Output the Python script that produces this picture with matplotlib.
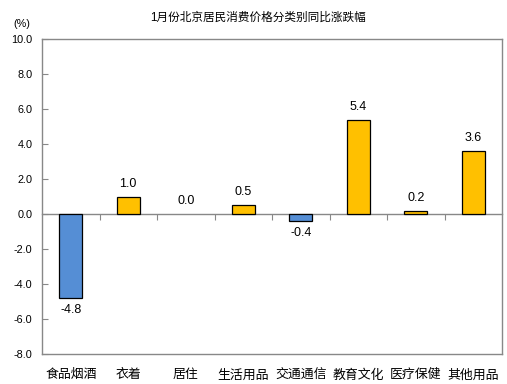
import matplotlib
matplotlib.use("Agg")
import matplotlib.pyplot as plt
import numpy as np

plt.rcParams['font.family'] = ['Liberation Sans', 'Noto Sans CJK SC', 'DejaVu Sans']

categories = ["食品烟酒", "衣着", "居住", "生活用品", "交通通信", "教育文化", "医疗保健", "其他用品"]
values = [-4.8, 1.0, 0.0, 0.5, -0.4, 5.4, 0.2, 3.6]
yticks = [-8.0, -6.0, -4.0, -2.0, 0.0, 2.0, 4.0, 6.0, 8.0, 10.0]
title = "1月份北京居民消费价格分类别同比涨跌幅"

fig = plt.figure(figsize=(5.07, 3.84), dpi=100)
ax = fig.add_axes([42/507, 1-354/384, (502-42)/507, (354-39)/384])

x = np.arange(len(categories))
colors = ['#558ED5' if v < 0 else '#FFC000' for v in values]
lws = [0.0 if v == 0 else 0.9 for v in values]
ax.bar(x, values, width=0.4, color=colors, edgecolor='black', linewidth=lws, zorder=3)

ax.set_xlim(-0.5, len(categories) - 0.5)
ax.set_ylim(-8, 10)
ax.set_yticks(yticks)
ax.set_yticklabels([f"{t:.1f}" for t in yticks], fontsize=7.8)
ax.tick_params(axis='y', direction='in', length=4, color='#888888', pad=7)

ax.set_xticks(x)
ax.set_xticklabels(categories, fontsize=9.3)
ax.tick_params(axis='x', length=0, pad=11)

for s in ax.spines.values():
    s.set_color('#888888')
    s.set_linewidth(1.0)

sec = ax.secondary_xaxis(8/18)
sec.set_xticks(np.arange(len(categories) - 1) + 0.5)
sec.set_xticklabels([])
sec.tick_params(axis='x', direction='out', length=4, color='#888888')
sec.spines['bottom'].set_color('#888888')
sec.spines['bottom'].set_linewidth(1.0)

for xi, v in zip(x, values):
    if v < 0:
        ax.annotate(f"{v:.1f}", (xi, v), xytext=(0, -4), textcoords='offset points',
                    ha='center', va='top', fontsize=9)
    else:
        ax.annotate(f"{v:.1f}", (xi, v), xytext=(0, 5), textcoords='offset points',
                    ha='center', va='bottom', fontsize=9)

fig.text(258/507, 1-18/384, title, ha='center', va='center', fontsize=8.4)
fig.text(22/507, 1-24/384, "(%)", ha='center', va='center', fontsize=7.8)

fig.savefig("out.png", dpi=100)
